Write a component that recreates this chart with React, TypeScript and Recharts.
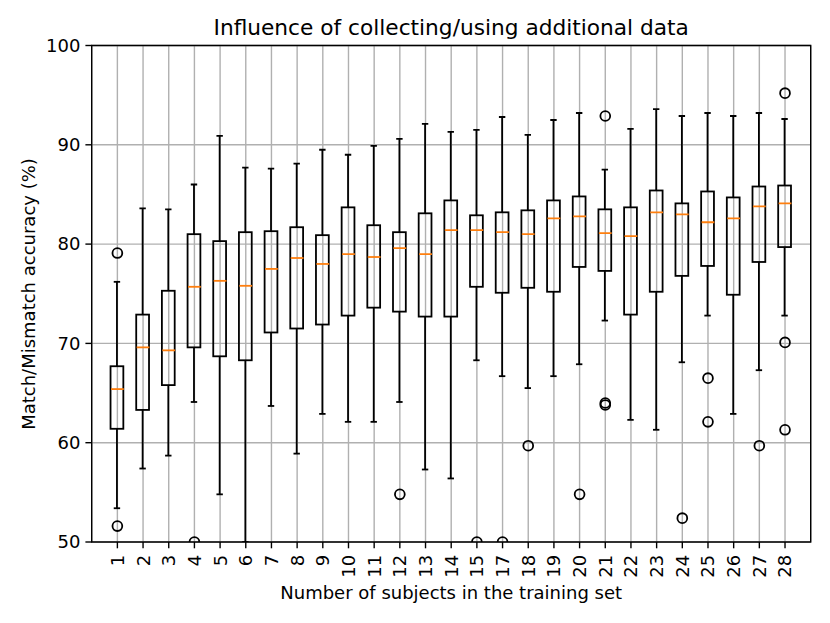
import React from 'react';
import {
  ComposedChart,
  Bar,
  Scatter,
  XAxis,
  YAxis,
  CartesianGrid,
  ReferenceArea,
} from 'recharts';

// subject counts on the x axis (16 is absent in the source figure)
const labels = [
  '1', '2', '3', '4', '5', '6', '7', '8', '9', '10', '11', '12', '13', '14', '15',
  '17', '18', '19', '20', '21', '22', '23', '24', '25', '26', '27', '28',
];

const whiskerLow = [53.4, 57.4, 58.7, 64.1, 54.8, 47.5, 63.7, 58.9, 62.9, 62.1, 62.1, 64.1, 57.3, 56.4, 68.3, 66.7, 65.5, 66.7, 67.9, 72.3, 62.3, 61.3, 68.1, 72.8, 62.9, 67.3, 72.8];
const q1 = [61.4, 63.3, 65.8, 69.6, 68.7, 68.3, 71.1, 71.5, 71.9, 72.8, 73.6, 73.2, 72.7, 72.7, 75.7, 75.1, 75.6, 75.2, 77.7, 77.3, 72.9, 75.2, 76.8, 77.8, 74.9, 78.2, 79.7];
const median = [65.4, 69.6, 69.3, 75.7, 76.3, 75.8, 77.5, 78.6, 78.0, 79.0, 78.7, 79.6, 79.0, 81.4, 81.4, 81.2, 81.0, 82.6, 82.8, 81.1, 80.8, 83.2, 83.0, 82.2, 82.6, 83.8, 84.1];
const q3 = [67.7, 72.9, 75.3, 81.0, 80.3, 81.2, 81.3, 81.7, 80.9, 83.7, 81.9, 81.2, 83.1, 84.4, 82.9, 83.2, 83.4, 84.4, 84.8, 83.5, 83.7, 85.4, 84.1, 85.3, 84.7, 85.8, 85.9];
const whiskerHigh = [76.2, 83.6, 83.5, 86.0, 90.9, 87.7, 87.6, 88.1, 89.5, 89.0, 89.9, 90.6, 92.1, 91.3, 91.5, 92.8, 91.0, 92.5, 93.2, 87.5, 91.6, 93.6, 92.9, 93.2, 92.9, 93.2, 92.6];

// fliers: which box they belong to and their value
const outlierLabels = ['1', '1', '4', '12', '15', '17', '18', '20', '21', '21', '21', '24', '25', '25', '27', '28', '28', '28'];
const outlierValues = [79.1, 51.6, 50.0, 54.8, 50.0, 50.0, 59.7, 54.8, 92.9, 63.8, 64.0, 52.4, 66.5, 62.1, 59.7, 95.2, 70.1, 61.3];

const yTicks = [50, 60, 70, 80, 90, 100];

const FONT = '"DejaVu Sans", sans-serif';
const W = 814;
const H = 607;
const BOX_W = 12.8;
const CAP_W = 6.4;
const LW = 1.8;

const boxData = labels.map((l, i) => ({
  pos: i + 1,
  base: whiskerLow[i],
  lw: q1[i] - whiskerLow[i],
  box: q3[i] - q1[i],
  uw: whiskerHigh[i] - q3[i],
}));
const medianData = labels.map((l, i) => ({ pos: i + 1, y: median[i] }));
const outlierData = outlierLabels.map((l, i) => ({ pos: labels.indexOf(l) + 1, y: outlierValues[i] }));
const xTicks = labels.map((l, i) => i + 1);

const Empty = () => <g />;

const LowerWhisker = (p: any) => {
  const cx = p.x + p.width / 2;
  const bottom = p.y + p.height;
  return (
    <g stroke="#000" strokeWidth={LW}>
      <line x1={cx} x2={cx} y1={p.y} y2={bottom} />
      <line x1={cx - CAP_W / 2} x2={cx + CAP_W / 2} y1={bottom} y2={bottom} />
    </g>
  );
};

const UpperWhisker = (p: any) => {
  const cx = p.x + p.width / 2;
  return (
    <g stroke="#000" strokeWidth={LW}>
      <line x1={cx} x2={cx} y1={p.y} y2={p.y + p.height} />
      <line x1={cx - CAP_W / 2} x2={cx + CAP_W / 2} y1={p.y} y2={p.y} />
    </g>
  );
};

const BoxRect = (p: any) => (
  <rect x={p.x} y={p.y} width={p.width} height={p.height} fill="none" stroke="#000" strokeWidth={LW} />
);

const MedianLine = (p: any) => (
  <line x1={p.cx - BOX_W / 2} x2={p.cx + BOX_W / 2} y1={p.cy} y2={p.cy} stroke="#ff7f0e" strokeWidth={LW} />
);

const Flier = (p: any) => <circle cx={p.cx} cy={p.cy} r={4.9} fill="none" stroke="#000" strokeWidth={LW} />;

const XTick = (p: any) => {
  const { x, y, payload } = p;
  return (
    <text
      x={x}
      y={y}
      dy="0.36em"
      transform={`rotate(-90, ${x}, ${y})`}
      textAnchor="end"
      fontSize={18}
      fontFamily={FONT}
      fill="#000"
    >
      {labels[payload.value - 1]}
    </text>
  );
};

export default function App() {
  return (
    <div style={{ position: 'relative', width: W, height: H, fontFamily: FONT, color: '#000' }}>
      <div
        style={{
          position: 'absolute',
          left: 83.7,
          width: 719,
          top: 8.6,
          textAlign: 'center',
          fontSize: 21.7,
          lineHeight: '21.7px',
          whiteSpace: 'nowrap',
        }}
      >
        Influence of collecting/using additional data
      </div>
      <ComposedChart
        width={W}
        height={H}
        data={boxData}
        margin={{ top: 37.5, right: 11.3, left: 0, bottom: 0 }}
      >
        <CartesianGrid stroke="#b0b0b0" strokeWidth={1.4} />
        <XAxis
          dataKey="pos"
          type="number"
          domain={[0, 28]}
          ticks={xTicks}
          interval={0}
          height={73}
          axisLine={false}
          tickLine={{ stroke: '#000', strokeWidth: 1.4 }}
          tickSize={6.3}
          tickMargin={6.5}
          tick={<XTick />}
        />
        <YAxis
          type="number"
          domain={[50, 100]}
          ticks={yTicks}
          allowDataOverflow
          width={83.7}
          axisLine={false}
          tickLine={{ stroke: '#000', strokeWidth: 1.4 }}
          tickSize={6.3}
          tickMargin={5}
          tick={{ fontSize: 18, fill: '#000', fontFamily: FONT }}
        />
        <Bar dataKey="base" stackId="b" barSize={BOX_W} shape={<Empty />} isAnimationActive={false} />
        <Bar dataKey="lw" stackId="b" barSize={BOX_W} shape={<LowerWhisker />} isAnimationActive={false} />
        <Bar dataKey="box" stackId="b" barSize={BOX_W} shape={<BoxRect />} isAnimationActive={false} />
        <Bar dataKey="uw" stackId="b" barSize={BOX_W} shape={<UpperWhisker />} isAnimationActive={false} />
        <Scatter data={medianData} dataKey="y" shape={<MedianLine />} isAnimationActive={false} />
        <Scatter data={outlierData} dataKey="y" shape={<Flier />} isAnimationActive={false} />
        <ReferenceArea x1={0} x2={28} y1={50} y2={100} fill="none" stroke="#000" strokeWidth={1.4} />
      </ComposedChart>
      <div
        style={{
          position: 'absolute',
          left: 83.7,
          width: 719,
          top: 575.8,
          textAlign: 'center',
          fontSize: 18,
          lineHeight: '18px',
          whiteSpace: 'nowrap',
        }}
      >
        Number of subjects in the training set
      </div>
      <div
        style={{
          position: 'absolute',
          left: 21.3 - 200,
          width: 400,
          top: 285.75 - 9,
          height: 18,
          textAlign: 'center',
          fontSize: 18,
          lineHeight: '18px',
          whiteSpace: 'nowrap',
          transform: 'rotate(-90deg)',
        }}
      >
        Match/Mismatch accuracy (%)
      </div>
    </div>
  );
}
